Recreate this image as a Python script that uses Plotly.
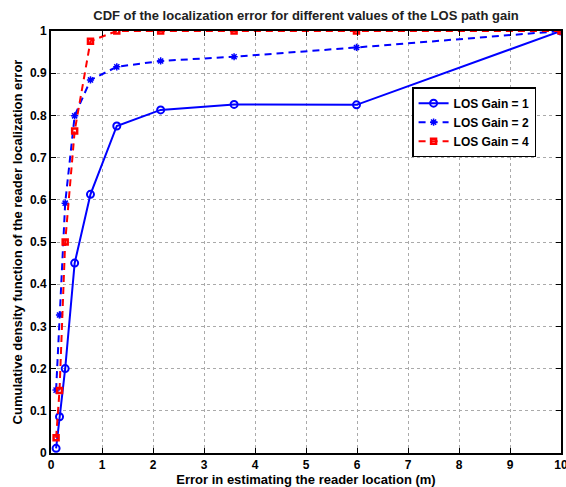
import plotly.graph_objects as go

# Data
error_m = [0.1, 0.167, 0.278, 0.464, 0.774, 1.29, 2.15, 3.59, 5.99, 10]
cdf_gain1 = [0.011, 0.086, 0.20, 0.45, 0.613, 0.775, 0.813, 0.826, 0.825, 1.0]
cdf_gain2 = [0.149, 0.327, 0.592, 0.799, 0.884, 0.915, 0.929, 0.939, 0.961, 1.0]
cdf_gain4 = [0.036, 0.148, 0.50, 0.763, 0.976, 1.0, 1.0, 1.0, 1.0, 1.0]
series_names = ["LOS Gain = 1", "LOS Gain = 2", "LOS Gain = 4"]
x_ticks = list(range(0, 11))
y_ticks = [round(0.1 * i, 1) for i in range(11)]

FONT = "Liberation Sans, Arial, sans-serif"
BLUE = "#0000ff"
RED = "#ff0000"
FS = 13

fig = go.Figure()
fig.add_trace(go.Scatter(
    x=error_m, y=cdf_gain1, name=series_names[0], mode="lines+markers",
    line=dict(color=BLUE, width=2),
    marker=dict(symbol="circle-open", size=7, color=BLUE, line=dict(width=2, color=BLUE)),
))
fig.add_trace(go.Scatter(
    x=error_m, y=cdf_gain2, name=series_names[1], mode="lines+markers",
    line=dict(color=BLUE, width=2, dash="7px,5px"),
    marker=dict(symbol="asterisk-open", size=6, color=BLUE, line=dict(width=1.5, color=BLUE)),
))
fig.add_trace(go.Scatter(
    x=error_m, y=cdf_gain4, name=series_names[2], mode="lines+markers",
    line=dict(color=RED, width=2, dash="7px,5px"),
    marker=dict(symbol="square-open", size=5, color=RED, line=dict(width=2.5, color=RED)),
))

axis_common = dict(
    showline=True, linecolor="black", linewidth=2, mirror="ticks",
    ticks="inside", ticklen=5, tickwidth=1, tickcolor="black",
    showgrid=True, gridcolor="#aaaaaa", griddash="dot", gridwidth=1,
    zeroline=False, ticklabeloverflow="allow", automargin=False,
    tickfont=dict(family=FONT, size=12, color="black", weight="bold"),
)

fig.update_layout(
    template="none",
    width=566, height=487,
    margin=dict(l=51, r=5, t=31, b=34, autoexpand=False),
    paper_bgcolor="white", plot_bgcolor="white",
    font=dict(family=FONT, color="black"),
    title=dict(
        text="<b>CDF of the localization error for different values of the LOS path gain</b>",
        xref="paper", x=0.5, xanchor="center", y=0.968, yanchor="middle",
        font=dict(family=FONT, size=FS, color="#222222"),
    ),
    xaxis=dict(
        range=[0, 10], tickvals=x_ticks, ticktext=[str(v) for v in x_ticks],
        title=dict(text="<b>Error in estimating the reader location (m)</b>",
                   font=dict(family=FONT, size=FS), standoff=0),
        **axis_common,
    ),
    yaxis=dict(
        range=[0, 1], tickvals=y_ticks, ticktext=[("%g" % v) for v in y_ticks],
        title=dict(text="<b>Cumulative density function of the reader localization error</b>",
                   font=dict(family=FONT, size=FS), standoff=4),
        **axis_common,
    ),
    legend=dict(
        x=0.708, y=0.867, xanchor="left", yanchor="top",
        bgcolor="white", bordercolor="black", borderwidth=1.5,
        font=dict(family=FONT, size=12, color="black", weight="bold"),
        tracegroupgap=0, itemwidth=30,
    ),
)

fig.write_html(
    "out.html",
    post_script="document.documentElement.style.overflow='hidden';"
                "document.body.style.overflow='hidden';"
                "document.body.style.margin='0';",
)
